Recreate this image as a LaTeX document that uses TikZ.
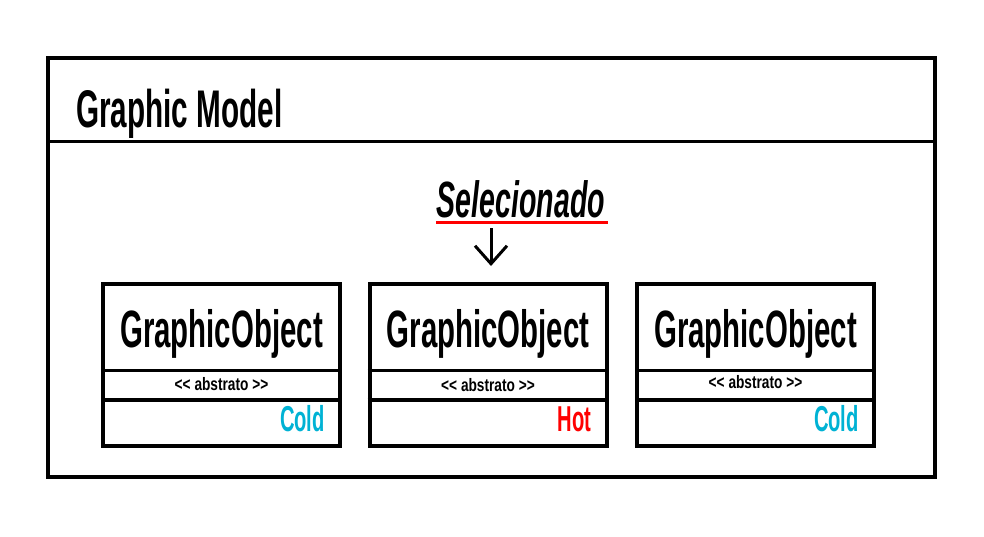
\documentclass[tikz,border=0pt]{standalone}
\usepackage{fontspec}
\usetikzlibrary{arrows.meta}
\newfontfamily\condA[FakeStretch=0.56]{Liberation Sans}
\newfontfamily\condB[FakeStretch=0.76]{Liberation Sans}
\definecolor{coldc}{RGB}{0,178,212}
\definecolor{hotc}{RGB}{255,0,0}
\tikzset{
  outerbox/.style={draw=black,line width=4pt,minimum width=887pt,minimum height=419pt,inner sep=0pt},
  objbox/.style={draw=black,line width=4pt,minimum width=237pt,minimum height=162pt,inner sep=0pt},
  divider/.style={draw=black,line width=3.5pt},
  titletxt/.style={font=\condA\bfseries\fontsize{53}{53}\selectfont,inner sep=0pt,anchor=base west},
  objtxt/.style={font=\condA\bfseries\fontsize{52.5}{52.5}\selectfont,inner sep=0pt,anchor=base},
  stereo/.style={font=\condB\bfseries\fontsize{18}{18}\selectfont,inner sep=0pt,anchor=base},
  statetxt/.style={font=\condA\bfseries\fontsize{36}{36}\selectfont,inner sep=0pt,anchor=base east},
  seltxt/.style={font=\condA\bfseries\itshape\fontsize{51}{51}\selectfont,inner sep=0pt,anchor=base},
  selarrow/.style={line width=3pt,-{Straight Barb[length=18pt,width=32pt,line width=3pt]}}
}
\begin{document}
\begin{tikzpicture}[x=1pt,y=-1pt]
\useasboundingbox (0,0) rectangle (984,536);
% outer model box
\node[outerbox] (model) at (491.5,267.5) {};
\coordinate (hdrL) at (48,141.5);
\coordinate (hdrR) at (935,141.5);
\draw[divider] (hdrL) -- (hdrR);
\node[titletxt] (title) at (76,127) {Graphic Model};
% selected label
\node[seltxt] (sel) at (521,217) {Selecionado};
\coordinate (ulL) at (436,222.5);
\coordinate (ulR) at (608,222.5);
\draw[hotc,line width=2.5pt] (ulL) -- (ulR);
% objects
\foreach \i/\cx/\ab/\st/\col in {1/221.5/390.5/Cold/coldc,2/488/391.5/Hot/hotc,3/755.5/388.5/Cold/coldc}{
  \node[objbox] (b\i) at (\cx,365) {};
  \draw[divider] (b\i.west |- 0,370.5) -- (b\i.east |- 0,370.5);
  \draw[divider] (b\i.west |- 0,400) -- (b\i.east |- 0,400);
  \node[objtxt] (name\i) at (\cx,347) {GraphicObject};
  \node[stereo] (abs\i) at (\cx,\ab) {<< abstrato >>};
  \node[statetxt,text=\col] (state\i) at ([xshift=-17pt]b\i.east |- 0,431) {\st};
}
\coordinate (arrS) at (491,228);
\draw[selarrow] (arrS) -- ([yshift=16pt]b2.north -| arrS);
\end{tikzpicture}
\end{document}
